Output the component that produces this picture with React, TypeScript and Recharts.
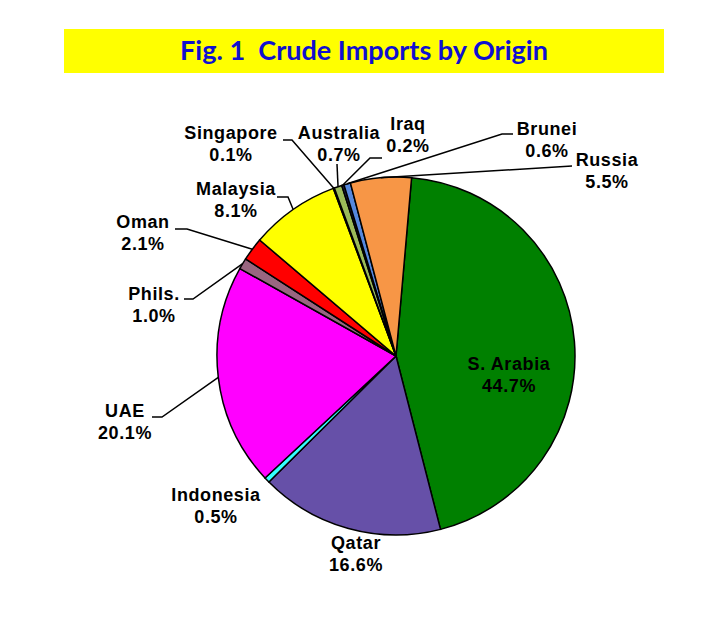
import { PieChart, Pie, Cell } from "recharts";

const countries = [
  "S. Arabia",
  "Qatar",
  "Indonesia",
  "UAE",
  "Phils.",
  "Oman",
  "Malaysia",
  "Singapore",
  "Australia",
  "Iraq",
  "Brunei",
  "Russia",
];
const shares = [44.7, 16.6, 0.5, 20.1, 1.0, 2.1, 8.1, 0.1, 0.7, 0.2, 0.6, 5.5];

const sliceColors = [
  "#008000",
  "#6650a8",
  "#33ffff",
  "#ff00ff",
  "#996680",
  "#ff0000",
  "#ffff00",
  "#1a1a4d",
  "#9bbb59",
  "#262650",
  "#5588dd",
  "#f79646",
];

// where each label sits (center x, baseline of the name) and the elbow of its leader
const labelSpots: { x: number; y: number; leader?: number[][] }[] = [
  { x: 509, y: 370 },
  { x: 356, y: 549 },
  { x: 216, y: 501 },
  { x: 125, y: 417, leader: [[152, 417], [162, 417]] },
  { x: 154, y: 300, leader: [[184, 299], [193, 299]] },
  { x: 143, y: 228, leader: [[175, 229], [187, 229]] },
  { x: 236, y: 195, leader: [[277, 197], [288, 197]] },
  { x: 231, y: 139, leader: [[283, 140], [292, 140]] },
  { x: 339, y: 139, leader: [[337, 164]] },
  { x: 408, y: 130, leader: [[382, 158], [370, 158]] },
  { x: 547, y: 135, leader: [[513, 134], [502, 134]] },
  { x: 607, y: 166, leader: [[572, 166]] },
];

const data = countries.map((name, i) => ({ name, value: shares[i] }));

const RAD = Math.PI / 180;
const labelFont = "'Liberation Sans', Arial, sans-serif";

const renderLabel = (props: any) => {
  const { cx, cy, midAngle, outerRadius, index } = props;
  const spot = labelSpots[index];
  const ex = cx + outerRadius * Math.cos(-midAngle * RAD);
  const ey = cy + outerRadius * Math.sin(-midAngle * RAD);
  const pts = spot.leader ? [...spot.leader, [ex, ey]] : null;
  return (
    <g>
      {pts && (
        <polyline
          points={pts.map((p) => p.join(",")).join(" ")}
          fill="none"
          stroke="#000"
          strokeWidth={1.5}
        />
      )}
      <text
        x={spot.x}
        y={spot.y}
        textAnchor="middle"
        fontFamily={labelFont}
        fontWeight="bold"
        fontSize={18}
        letterSpacing={0.6}
        fill="#000"
      >
        {countries[index]}
      </text>
      <text
        x={spot.x}
        y={spot.y + 22}
        textAnchor="middle"
        fontFamily={labelFont}
        fontWeight="bold"
        fontSize={18}
        letterSpacing={0.6}
        fill="#000"
      >
        {shares[index].toFixed(1)}%
      </text>
    </g>
  );
};

export default function App() {
  return (
    <div
      style={{
        position: "absolute",
        left: 0,
        top: 0,
        width: 728,
        height: 624,
        background: "#fff",
      }}
    >
      <svg
        width={728}
        height={624}
        style={{ position: "absolute", left: 0, top: 0 }}
      >
        <rect x={64} y={29} width={600} height={44} fill="#ffff00" />
        <text
          x={364}
          y={60}
          textAnchor="middle"
          fontFamily="Lato, 'Open Sans', sans-serif"
          fontWeight="bold"
          fontSize={27}
          fill="#1010d0"
          textLength={368}
          lengthAdjust="spacingAndGlyphs"
        >
          {"Fig. 1\u00a0 Crude Imports by Origin"}
        </text>
      </svg>
      <div style={{ position: "absolute", left: 0, top: 0 }}>
        <PieChart
          width={728}
          height={624}
          margin={{ top: 0, right: 0, bottom: 0, left: 0 }}
        >
          <Pie
            data={data}
            dataKey="value"
            nameKey="name"
            cx={396}
            cy={356}
            outerRadius={179}
            startAngle={85}
            endAngle={-275}
            stroke="#000"
            strokeWidth={1.5}
            label={renderLabel}
            labelLine={false}
            isAnimationActive={false}
          >
            {data.map((d, i) => (
              <Cell key={d.name} fill={sliceColors[i]} />
            ))}
          </Pie>
        </PieChart>
      </div>
    </div>
  );
}
